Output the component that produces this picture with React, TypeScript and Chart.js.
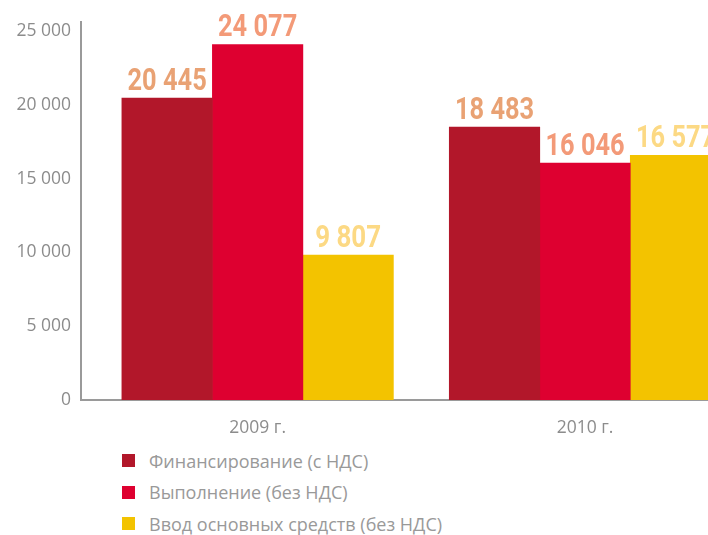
import React, { useEffect, useRef } from "react";
import { Chart, registerables } from "chart.js";

Chart.register(...registerables);

const categories = ["2009 г.", "2010 г."];
const seriesNames = [
  "Финансирование (с НДС)",
  "Выполнение (без НДС)",
  "Ввод основных средств (без НДС)",
];
const financing = [20445, 18483];
const execution = [24077, 16046];
const commissioning = [9807, 16577];
const yTicks = [0, 5000, 10000, 15000, 20000, 25000];

const barColors = ["#B2172A", "#DE0030", "#F3C300"];
const labelColors = ["#E9A274", "#F39A78", "#FCD984"];

const fmt = (v: number) => String(v).replace(/\B(?=(\d{3})+(?!\d))/g, " ");

const TEXT_FONT = "'Open Sans', sans-serif";

export default function App() {
  const ref = useRef<HTMLCanvasElement | null>(null);

  useEffect(() => {
    if (!ref.current) return;
    const series = [financing, execution, commissioning];
    const labelPlugin = {
      id: "valueLabels",
      afterDatasetsDraw(chart: any) {
        const ctx = chart.ctx;
        chart.data.datasets.forEach((ds: any, di: number) => {
          const meta = chart.getDatasetMeta(di);
          meta.data.forEach((bar: any, i: number) => {
            const text = fmt(series[di][i]);
            ctx.save();
            ctx.font = "bold 32px Roboto, 'DejaVu Sans', sans-serif";
            ctx.textAlign = "center";
            ctx.textBaseline = "alphabetic";
            const w = ctx.measureText(text).width;
            const target = text.length * 13.2;
            const sx = Math.min(1, target / w);
            ctx.translate(bar.x, bar.y - 8);
            ctx.scale(sx, 1);
            ctx.fillStyle = labelColors[di];
            ctx.fillText(text, 0, 0);
            ctx.restore();
          });
        });
      },
    };

    const chart = new Chart(ref.current, {
      type: "bar",
      data: {
        datasets: series.map((vals, di) => ({
          label: seriesNames[di],
          data: vals.map((v, i) => ({ x: i, y: v })),
          backgroundColor: barColors[di],
          barThickness: 90.5,
          borderWidth: 0,
        })),
      },
      options: {
        animation: false,
        responsive: false,
        layout: { padding: { top: 22, right: 0, left: 0, bottom: 0 } },
        plugins: { legend: { display: false }, tooltip: { enabled: false } },
        scales: {
          x: {
            type: "linear",
            offset: false,
            min: -0.5395,
            max: 1.3756,
            grid: { display: false, drawTicks: false, offset: false },
            border: { display: true, color: "#9a9a9a", width: 2 },
            afterBuildTicks: (s: any) => {
              s.ticks = categories.map((_, i) => ({ value: i }));
            },
            afterFit: (s: any) => {
              s.height = 45;
            },
            ticks: {
              padding: 18,
              color: "#8c8c8c",
              font: { family: TEXT_FONT, size: 17.5 },
              maxRotation: 0,
              autoSkip: false,
              callback: (v: any) => categories[Math.round(Number(v))] ?? "",
            },
          },
          y: {
            min: 0,
            max: 25600,
            grid: { display: false, drawTicks: false },
            border: { display: true, color: "#9a9a9a", width: 2 },
            afterBuildTicks: (s: any) => {
              s.ticks = yTicks.map((v) => ({ value: v }));
            },
            afterFit: (s: any) => {
              s.width = 81;
            },
            ticks: {
              padding: 10,
              color: "#8c8c8c",
              font: { family: TEXT_FONT, size: 17.5 },
              callback: (v: any) => fmt(Number(v)),
            },
          },
        },
      },
      plugins: [labelPlugin],
    });
    return () => chart.destroy();
  }, []);

  return (
    <div
      style={{
        position: "fixed",
        left: 0,
        top: 0,
        width: 708,
        height: 535,
        overflow: "hidden",
        background: "#fff",
      }}
    >
      <canvas ref={ref} width={708} height={445} style={{ display: "block" }} />
      <div style={{ position: "absolute", left: 122, top: 445, fontFamily: TEXT_FONT }}>
        {seriesNames.map((name, i) => (
          <div
            key={name}
            style={{
              display: "flex",
              alignItems: "center",
              height: 31.5,
              fontSize: 18,
              color: "#999999",
              whiteSpace: "nowrap",
            }}
          >
            <span
              style={{
                display: "inline-block",
                width: 13,
                height: 13,
                background: barColors[i],
                marginRight: 14,
              }}
            />
            {name}
          </div>
        ))}
      </div>
    </div>
  );
}
